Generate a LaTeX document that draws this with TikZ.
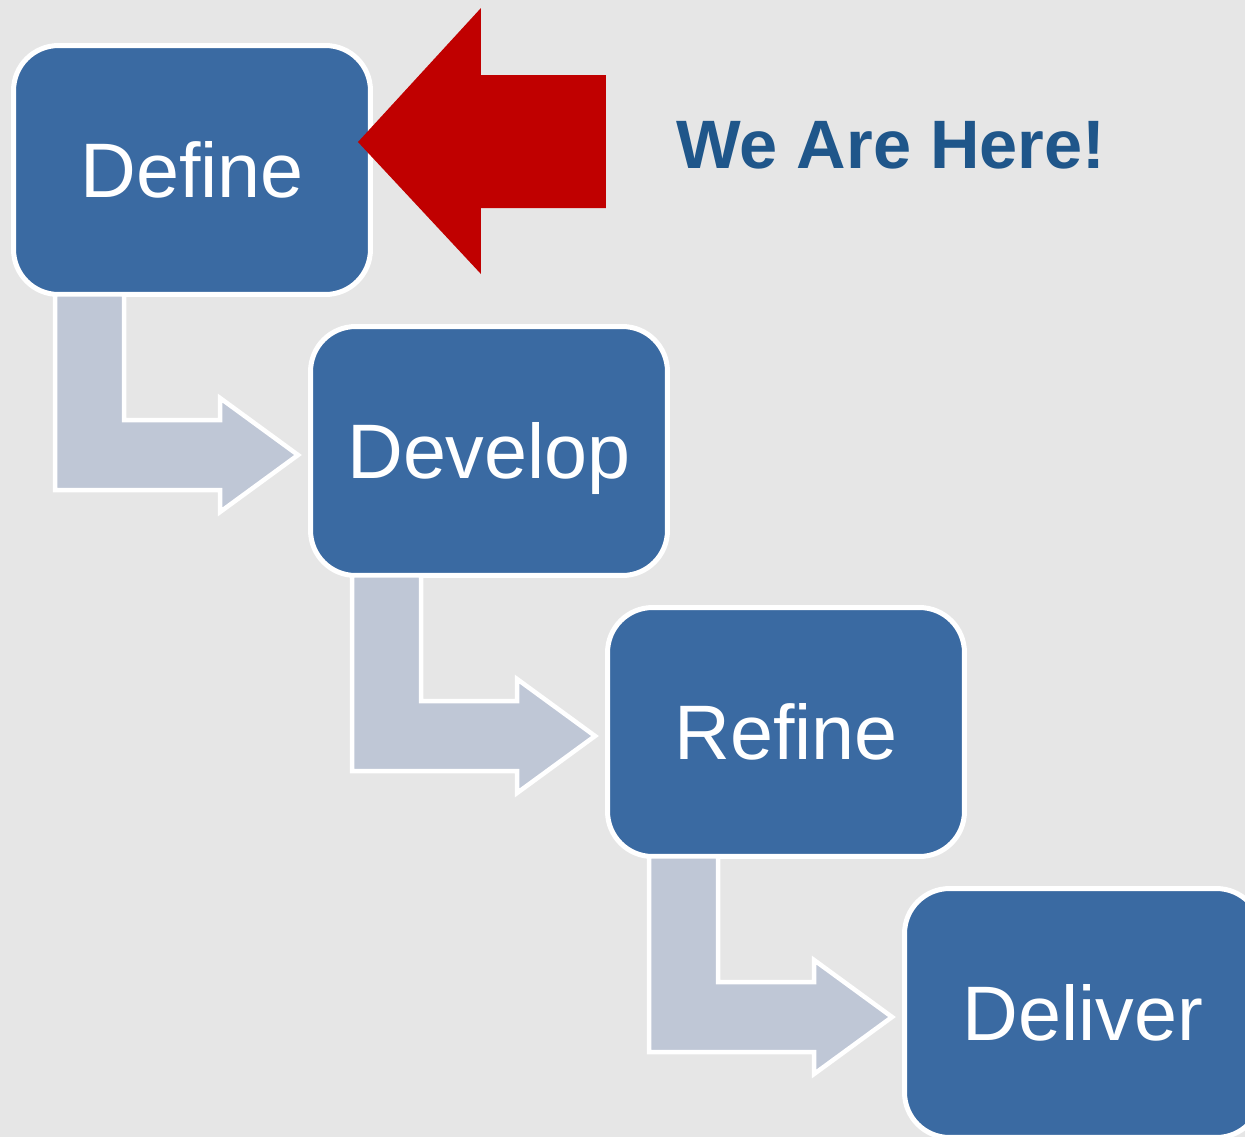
\documentclass[tikz,border=0pt]{standalone}
\usepackage{fontspec}
\setmainfont{Liberation Sans}
\usepackage{tikz}
\usetikzlibrary{calc}

\definecolor{bggray}{RGB}{230,230,230}
\definecolor{stageblue}{RGB}{58,106,162}
\definecolor{flowgray}{RGB}{191,199,214}
\definecolor{herered}{RGB}{192,0,0}
\definecolor{heretext}{RGB}{31,86,138}

\begin{document}
\begin{tikzpicture}[x=0.02cm, y=-0.02cm,
  stage/.style={draw=white, line width=0.1cm, fill=stageblue, rounded corners=0.9cm,
    minimum width=7.14cm, minimum height=4.98cm, inner sep=0pt, text=white,
    font=\fontsize{44}{44}\selectfont, text height=31.5pt, text depth=0pt},
  flow/.style={draw=white, line width=0.09cm, fill=flowgray},
  herelabel/.style={text=heretext, inner sep=0pt, font=\bfseries\fontsize{39}{39}\selectfont,
    text height=27.9pt, text depth=0pt}]

\useasboundingbox (0,0) rectangle (1245,1137);
\fill[bggray] (0,0) rectangle (1245,1137);

\node[stage] (define) at (192,170) {Define};
\node[stage] (develop) at (489,451) {Develop};
\node[stage] (refine) at (786,732) {Refine};
\node[stage] (deliver) at (1083,1013) {Deliver};

\foreach \a/\b in {define/develop, develop/refine, refine/deliver}
  \draw[flow] ($(\a.south west)+(44,-2.5)$) -- ($(\a.south west)+(113,-2.5)$)
    |- ($(\b.west)+(-88,-31)$) -- ++(0,-22) -- ($(\b.west)+(-10,4)$)
    -- ($(\b.west)+(-88,61)$) -- ++(0,-22) -| ($(\a.south west)+(44,-2.5)$) -- cycle;

\coordinate (pointer) at ([shift={(-15,-28)}]define.east);
\fill[herered] (pointer) -- ++(123,-134) -- ++(0,67) -- ++(125,0) -- ++(0,133)
  -- ++(-125,0) -- ++(0,66) -- cycle;

\node[herelabel, anchor=west] (here) at (676,144) {We Are Here!};

\end{tikzpicture}
\end{document}
